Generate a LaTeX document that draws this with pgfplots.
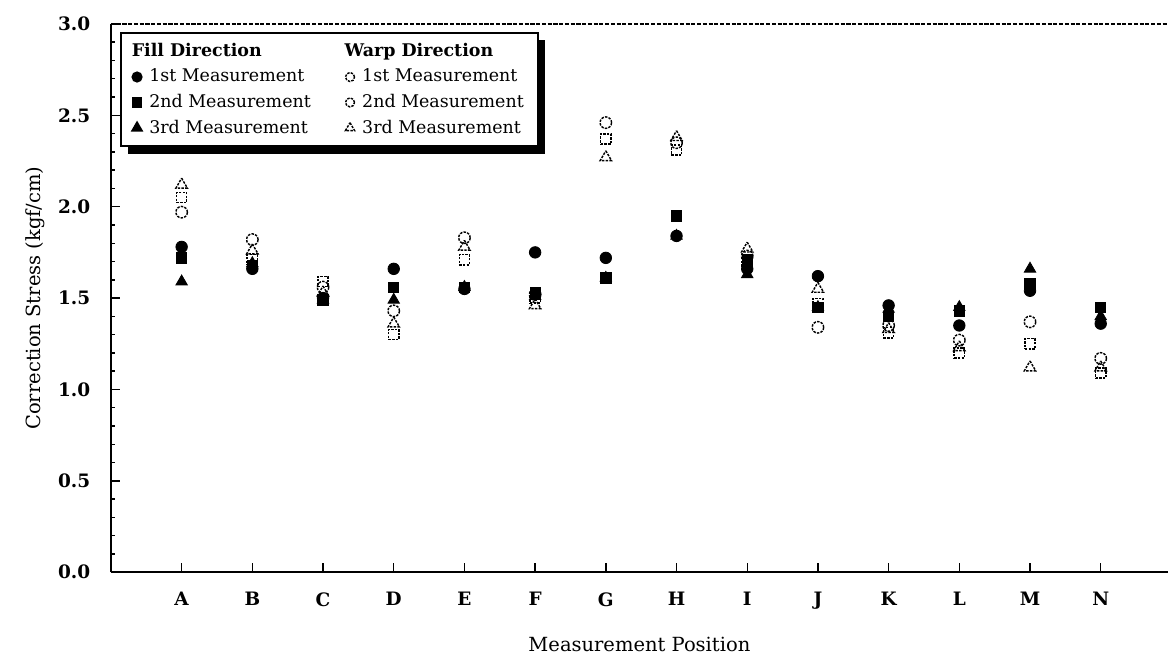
\documentclass[border=0pt]{standalone}
\usepackage{pgfplots}
\pgfplotsset{compat=1.18}
\usepackage{fontspec}
\setmainfont{DejaVu Serif}
\usetikzlibrary{shadows}

% one column per series: x = position (A=1 ... N=14)
\pgfplotstableread{
x  f1   f2   f3   w1   w2   w3
1  1.78 1.72 1.59 1.97 2.05 2.12
2  1.66 1.68 1.69 1.82 1.71 1.76
3  1.50 1.49 1.49 1.56 1.59 1.53
4  1.66 1.56 1.49 1.43 1.30 1.36
5  1.55 1.56 1.56 1.83 1.71 1.78
6  1.75 1.53 1.51 1.52 1.50 1.46
7  1.72 1.61 1.61 2.46 2.37 2.27
8  1.84 1.95 1.84 2.35 2.31 2.38
9  1.66 1.71 1.63 1.73 1.69 1.77
10 1.62 1.45 1.45 1.34 1.47 1.55
11 1.46 1.40 1.44 1.35 1.31 1.33
12 1.35 1.43 1.45 1.27 1.20 1.23
13 1.54 1.58 1.66 1.37 1.25 1.12
14 1.36 1.45 1.40 1.17 1.09 1.12
}\stress

\begin{document}
\begin{tikzpicture}
\begin{axis}[
    scale only axis,
    width=18.10cm,
    height=9.39cm,
    xmin=0, xmax=14.95,
    ymin=0, ymax=3,
    axis lines=left,
    axis line style={-, line width=1.1pt},
    tick align=inside,
    xtick={1,...,14},
    xticklabels={A,B,C,D,E,F,G,H,I,J,K,L,M,N},
    ytick={0,0.5,...,3.0},
    minor y tick num=4,
    major tick length=0.15cm,
    minor tick length=0.07cm,
    tick style={black, line width=0.7pt},
    /pgf/number format/.cd, fixed, fixed zerofill, precision=1, assume math mode=true,
    /pgfplots/.cd,
    tick label style={font=\fontsize{9}{10}\selectfont\bfseries},
    yticklabel style={xshift=-0.23cm},
    xticklabel style={yshift=-0.22cm},
    label style={font=\fontsize{9.5}{11}\selectfont},
    xlabel={Measurement Position},
    ylabel={Correction Stress (kgf/cm)},
    xlabel style={at={(axis description cs:0.5,0)}, anchor=center, yshift=-1.23cm},
    ylabel style={at={(axis description cs:-0.0718,0.5)}, anchor=center},
    legend columns=2,
    legend cell align=left,
    legend image code/.code={\draw[#1] plot coordinates {(0.1cm,0cm)};},
    legend style={
        at={(axis description cs:0.0085,0.985)}, anchor=north west,
        draw=black, line width=1pt, fill=white,
        drop shadow={shadow xshift=3.5pt, shadow yshift=-3.5pt, fill=black, opacity=1},
        font=\fontsize{8.5}{10}\selectfont,
        inner xsep=5pt, inner ysep=3pt,
        /tikz/every even column/.append style={column sep=0.5cm},
        /tikz/every odd column/.append style={column sep=0.06cm},
        row sep=0.5pt,
    },
    filled/.style={only marks, black, mark options={fill=black, solid}},
    open/.style={only marks, black, mark options={fill=none, line width=0.7pt, dash pattern=on 1.2pt off 0.6pt}},
]
% warp direction (open marks)
\addplot[open, mark=o, mark size=2.8pt, forget plot] table[x=x, y=w1] {\stress};
\addplot[open, mark=square, mark size=2.5pt, forget plot] table[x=x, y=w2] {\stress};
\addplot[open, mark=triangle, mark size=3.2pt, forget plot] table[x=x, y=w3] {\stress};
% fill direction (solid marks)
\addplot[filled, mark=*, mark size=2.8pt, forget plot] table[x=x, y=f1] {\stress};
\addplot[filled, mark=square*, mark size=2.5pt, forget plot] table[x=x, y=f2] {\stress};
\addplot[filled, mark=triangle*, mark size=3.2pt, forget plot] table[x=x, y=f3] {\stress};

\addlegendimage{empty legend}
\addlegendentry{\hspace*{-0.30cm}\bfseries Fill Direction}
\addlegendimage{empty legend}
\addlegendentry{\hspace*{-0.30cm}\bfseries Warp Direction}
\addlegendimage{filled, mark=*, mark size=2.2pt}
\addlegendentry{1st Measurement}
\addlegendimage{open, mark=o, mark size=2.2pt}
\addlegendentry{1st Measurement}
\addlegendimage{filled, mark=square*, mark size=2pt}
\addlegendentry{2nd Measurement}
\addlegendimage{open, mark=o, mark size=2.2pt}
\addlegendentry{2nd Measurement}
\addlegendimage{filled, mark=triangle*, mark size=2.6pt}
\addlegendentry{3rd Measurement}
\addlegendimage{open, mark=triangle, mark size=2.6pt}
\addlegendentry{3rd Measurement}

% dotted top border of the frame
\draw[line width=1pt, dash pattern=on 2pt off 0.8pt] (rel axis cs:0,1) -- (rel axis cs:1,1);
\coordinate (ll) at (rel axis cs:0,0);
\coordinate (ur) at (rel axis cs:1,1);
\end{axis}
% picture margins
\path (ll) ++(-1.90cm,-1.59cm) rectangle ([yshift=0.41cm]ur);
\end{tikzpicture}
\end{document}
